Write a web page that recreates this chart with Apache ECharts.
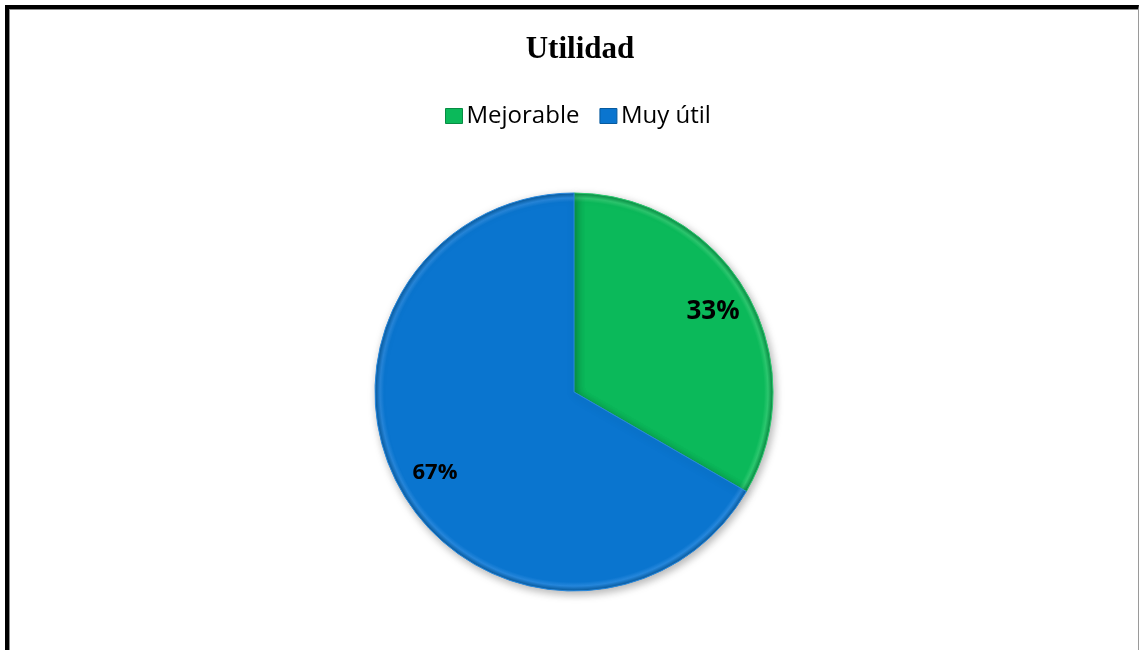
<!DOCTYPE html>
<html>
<head>
<meta charset="utf-8">
<title>Utilidad</title>
<script src="https://cdn.jsdelivr.net/npm/echarts@6/dist/echarts.min.js"></script>
<style>
  html, body { margin: 0; padding: 0; background: #ffffff; }
  #wrap { position: relative; width: 1140px; height: 650px; overflow: hidden; }
  /* page frame: heavy black top/left edge, thin grey right edge */
  #frame {
    position: absolute; left: 5px; top: 5px; width: 1129px; height: 700px;
    border-top: 4px solid #000; border-left: 4px solid #000; border-right: 1px solid #9a9a9a;
    box-shadow: inset 1px 1px 0 #8c8c8c;
  }
  #chart { position: absolute; left: 0; top: 0; width: 1140px; height: 650px; }
</style>
</head>
<body>
<div id="wrap">
  <div id="frame"></div>
  <div id="chart"></div>
</div>
<script>
// Survey answers for "Utilidad"
const categories = ['Mejorable', 'Muy útil'];
const values = [1, 2];
const percentLabels = ['33%', '67%'];

// Slice colours and label sizes
const baseColors = ['#0bb95a', '#0a75cf'];
const edgeLight = ['#2cc86f', '#2687dc'];
const edgeDark = ['#078c43', '#075a9e'];
const labelSizes = [26, 22];

const CX = 574, CY = 392, R = 199;

function sliceFill(i) {
  return {
    type: 'radial', x: CX, y: CY, r: R, global: true,
    colorStops: [
      { offset: 0, color: baseColors[i] },
      { offset: 0.955, color: baseColors[i] },
      { offset: 0.975, color: edgeLight[i] },
      { offset: 1, color: edgeDark[i] }
    ]
  };
}

const pieData = categories.map((name, i) => ({
  name: name,
  value: values[i],
  itemStyle: { color: sliceFill(i), borderColor: edgeLight[i], borderWidth: 1 }
}));

const labelData = categories.map((name, i) => ({
  name: name,
  value: values[i],
  label: { fontSize: labelSizes[i] }
}));

const chart = echarts.init(document.getElementById('chart'), null, { renderer: 'canvas' });

chart.setOption({
  animation: false,
  backgroundColor: 'transparent',
  color: baseColors,
  title: {
    text: 'Utilidad',
    left: 575, top: 29, textAlign: 'center',
    textStyle: { fontFamily: 'Liberation Serif', fontWeight: 'bold', fontSize: 31, color: '#000' }
  },
  legend: {
    data: categories.map((name, i) => ({
      name: name,
      itemStyle: { color: baseColors[i], borderColor: edgeDark[i], borderWidth: 1 }
    })),
    left: 440, top: 99,
    icon: 'rect', itemWidth: 17, itemHeight: 15, itemGap: 20,
    textStyle: { fontFamily: 'Open Sans', fontSize: 24, color: '#000', padding: [0, 0, 0, -1] }
  },
  series: [
    {
      name: 'Utilidad',
      type: 'pie',
      center: [CX, CY],
      radius: [0, R],
      startAngle: 90,
      clockwise: true,
      silent: true,
      label: { show: false },
      labelLine: { show: false },
      itemStyle: {
        shadowBlur: 8, shadowColor: 'rgba(0,0,0,0.3)', shadowOffsetX: 2, shadowOffsetY: 3
      },
      data: pieData
    },
    {
      // transparent ring carrying the percentage labels at ~0.79 of the radius
      name: 'etiquetas',
      type: 'pie',
      center: [CX, CY],
      radius: [116, R],
      startAngle: 90,
      clockwise: true,
      silent: true,
      legendHoverLink: false,
      itemStyle: { color: 'rgba(0,0,0,0)' },
      label: {
        show: true, position: 'inside',
        formatter: p => percentLabels[p.dataIndex],
        fontFamily: 'Open Sans', fontWeight: 'bold', color: '#000'
      },
      labelLine: { show: false },
      data: labelData
    }
  ]
});
</script>
</body>
</html>
